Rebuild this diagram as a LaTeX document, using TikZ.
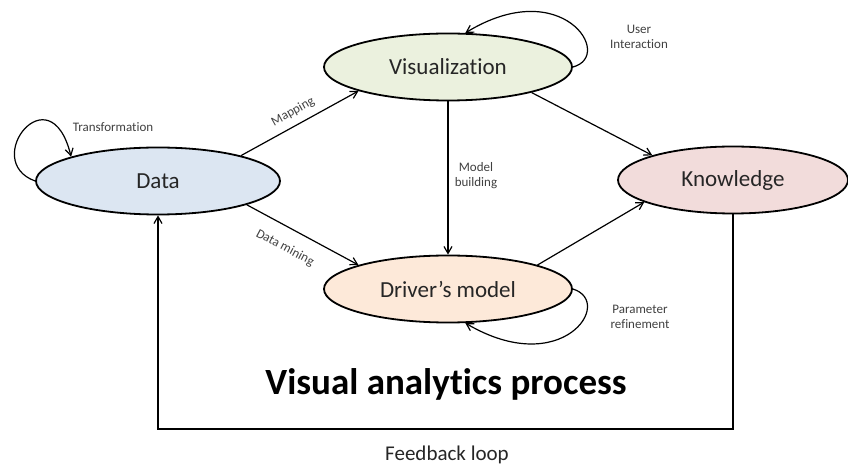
\documentclass[tikz,border=0pt]{standalone}
\usepackage{fontspec}
\setmainfont{Carlito}[Ligatures={NoCommon}]
\usetikzlibrary{arrows.meta,shapes.geometric,calc}
\definecolor{cdata}{HTML}{DCE6F2}
\definecolor{cvis}{HTML}{EBF1DE}
\definecolor{cknow}{HTML}{F2DCDB}
\definecolor{cdrv}{HTML}{FDE9D9}
\begin{document}
\begin{tikzpicture}[x=1pt,y=1pt,
  state/.style={ellipse,draw,line width=1.8pt,minimum width=244pt,minimum height=67pt,inner sep=0pt,text=black!85,font=\fontsize{23}{27}\selectfont},
  flow/.style={line width=1.2pt,-{Straight Barb[angle=60:8pt]}},
  lbl/.style={font=\fontsize{13}{15}\selectfont,text=black!75,align=center,inner sep=0pt}]
\useasboundingbox (0,0) rectangle (848,466);
% nodes
\node[state,fill=cdata] (data) at (158,285) {Data};
\node[state,fill=cvis,minimum width=248pt] (vis) at (448,399) {Visualization};
\node[state,fill=cknow,minimum width=230pt] (know) at (733,286) {Knowledge};
\node[state,fill=cdrv,minimum width=248pt] (drv) at (448,177) {Driver’s model};
% main arrows
\draw[flow] (data.17) -- (vis.195);
\draw[flow] (data.345) -- (drv.165);
\draw[flow] (vis.south) -- (drv.north);
\draw[flow] (vis.343) -- (know.163);
\draw[flow] (drv.15) -- (know.194);
% self loops
\draw[flow] (data.west) .. controls (-20,305) and (50,395) .. (data.north west);
\draw[flow] (vis.east) .. controls (615,410) and (562,492) .. (vis.63);
\draw[flow] (drv.east) .. controls (615,164) and (562,86) .. (drv.297);
% feedback loop
\coordinate (fb) at (0,37);
\draw[flow] (know.south) -- (know.south |- fb) -- (data.south |- fb) -- (data.south);
% labels
\node[lbl,rotate=29] (lmap) at (293,354) {Mapping};
\node[lbl,rotate=-28] (lmin) at (285,218) {Data mining};
\node[lbl] (lmod) at (476,290) {Model\\building};
\node[lbl] (ltra) at (113,339) {Transformation};
\node[lbl] (lusr) at (639,429) {User\\Interaction};
\node[lbl] (lpar) at (640,149) {Parameter\\refinement};
\node[font=\bfseries\fontsize{37}{41}\selectfont,text=black] (title) at (446,82) {Visual analytics process};
\node[font=\fontsize{21}{25}\selectfont,text=black!85] (lfb) at (447,11) {Feedback loop};
\end{tikzpicture}
\end{document}
